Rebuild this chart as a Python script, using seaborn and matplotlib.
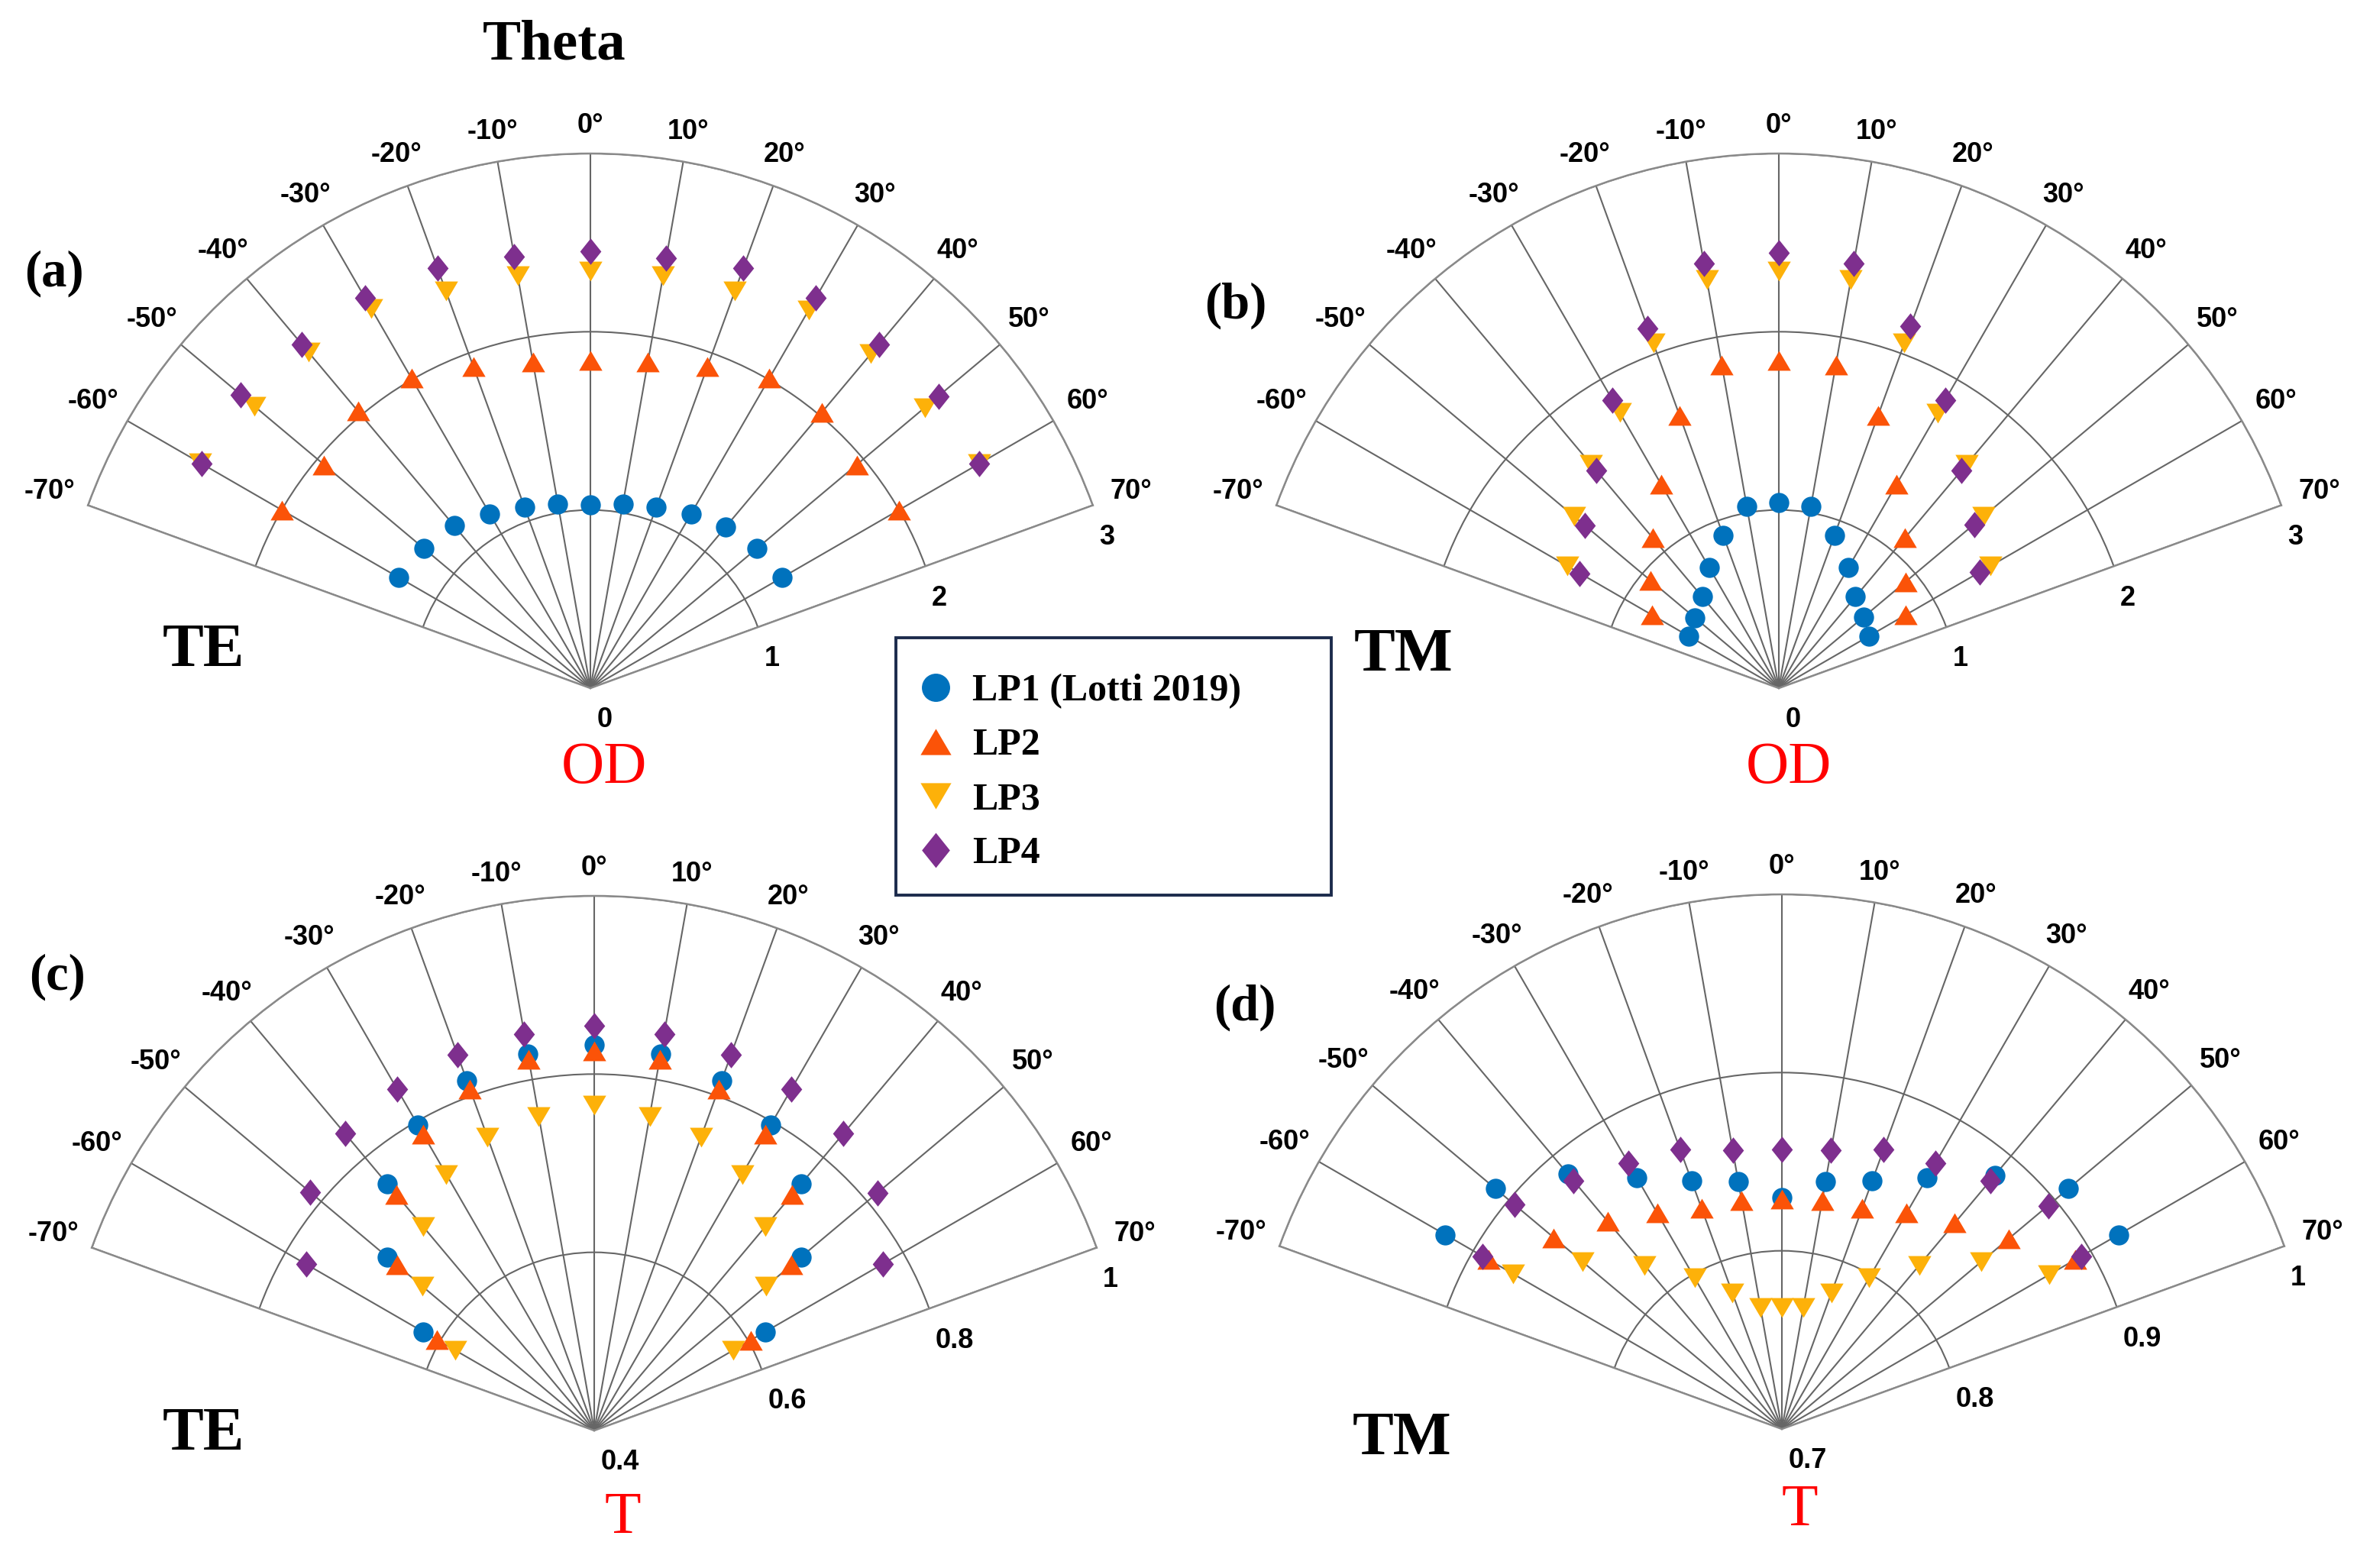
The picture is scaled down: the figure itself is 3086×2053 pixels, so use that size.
import numpy as np
import matplotlib
matplotlib.use("Agg")
import matplotlib.pyplot as plt
from matplotlib.lines import Line2D
from matplotlib.patches import Rectangle
import seaborn as sns

# incidence angles (deg) and series
angles = [-60, -50, -40, -30, -20, -10, 0, 10, 20, 30, 40, 50, 60]
series = ["LP1 (Lotti 2019)", "LP2", "LP3", "LP4"]

# (a) TE, OD
a_lp1 = [1.24, 1.22, 1.19, 1.13, 1.08, 1.05, 1.03, 1.05, 1.08, 1.13, 1.18, 1.22, 1.24]
a_lp2 = [2.00, 1.95, 2.03, 2.01, 1.92, 1.86, 1.84, 1.86, 1.92, 2.01, 2.02, 1.95, 2.00]
a_lp3 = [2.53, 2.46, 2.46, 2.46, 2.37, 2.35, 2.34, 2.35, 2.37, 2.45, 2.45, 2.45, 2.52]
a_lp4 = [2.52, 2.56, 2.52, 2.53, 2.51, 2.46, 2.45, 2.45, 2.51, 2.53, 2.52, 2.55, 2.52]
# (b) TM, OD
b_lp1 = [0.585, 0.615, 0.67, 0.78, 0.91, 1.035, 1.04, 1.035, 0.91, 0.78, 0.67, 0.62, 0.585]
b_lp2 = [0.82, 0.94, 1.10, 1.32, 1.63, 1.84, 1.84, 1.84, 1.63, 1.32, 1.10, 0.93, 0.82]
b_lp3 = [1.37, 1.50, 1.64, 1.785, 2.06, 2.33, 2.34, 2.33, 2.06, 1.78, 1.64, 1.50, 1.37]
b_lp4 = [1.29, 1.42, 1.595, 1.865, 2.15, 2.42, 2.445, 2.42, 2.16, 1.865, 1.595, 1.43, 1.30]
# (c) TE, T
c_lp1 = [0.622, 0.703, 0.761, 0.796, 0.818, 0.829, 0.833, 0.829, 0.818, 0.796, 0.761, 0.703, 0.622]
c_lp2 = [0.604, 0.689, 0.746, 0.784, 0.808, 0.823, 0.826, 0.823, 0.808, 0.784, 0.746, 0.689, 0.603]
c_lp3 = [0.580, 0.652, 0.699, 0.732, 0.750, 0.758, 0.765, 0.758, 0.750, 0.732, 0.699, 0.652, 0.580]
c_lp4 = [0.773, 0.816, 0.835, 0.842, 0.849, 0.852, 0.854, 0.852, 0.849, 0.842, 0.835, 0.815, 0.774]
# (d) TM, T
d_lp1 = [0.918, 0.910, 0.887, 0.863, 0.848, 0.841, 0.830, 0.841, 0.848, 0.863, 0.886, 0.910, 0.918]
d_lp2 = [0.890, 0.867, 0.852, 0.840, 0.832, 0.830, 0.829, 0.830, 0.832, 0.840, 0.851, 0.866, 0.890]
d_lp3 = [0.874, 0.846, 0.820, 0.798, 0.781, 0.769, 0.768, 0.769, 0.781, 0.798, 0.820, 0.846, 0.873]
d_lp4 = [0.894, 0.896, 0.882, 0.872, 0.867, 0.859, 0.857, 0.859, 0.867, 0.872, 0.882, 0.895, 0.894]

colors = ["#0072BD", "#FB5308", "#FDB109", "#7E2F8E"]
tri_up = [(0, 0.85), (-1, -0.85), (1, -0.85)]
tri_dn = [(0, -0.85), (-1, 0.85), (1, 0.85)]
diam = [(0, 1), (0.8, 0), (0, -1), (-0.8, 0)]
markers = ["o", tri_up, tri_dn, diam]
sizes = [90, 120, 120, 155]

sns.set_style("white")
plt.rcParams["font.family"] = ["Liberation Sans", "DejaVu Sans"]
plt.rcParams["text.color"] = "black"
SERIF = ["Liberation Serif", "DejaVu Serif"]

W, H = 3086, 2053
fig = plt.figure(figsize=(W / 200, H / 200), dpi=200)
R = 700
S = 2 * np.sin(np.deg2rad(70)) * R
GRID = "#666666"

panels = [
    dict(cx=773, cy=901, rmin=0, rmax=3, rings=[1, 2, 3], rlab=["0", "1", "2", "3"],
         data=[a_lp1, a_lp2, a_lp3, a_lp4]),
    dict(cx=2329, cy=901, rmin=0, rmax=3, rings=[1, 2, 3], rlab=["0", "1", "2", "3"],
         data=[b_lp1, b_lp2, b_lp3, b_lp4]),
    dict(cx=778, cy=1873, rmin=0.4, rmax=1, rings=[0.6, 0.8, 1], rlab=["0.4", "0.6", "0.8", "1"],
         data=[c_lp1, c_lp2, c_lp3, c_lp4]),
    dict(cx=2333, cy=1871, rmin=0.7, rmax=1, rings=[0.8, 0.9, 1], rlab=["0.7", "0.8", "0.9", "1"],
         data=[d_lp1, d_lp2, d_lp3, d_lp4]),
]

th = np.deg2rad(angles)
for p in panels:
    cy_up = H - p["cy"]
    ax = fig.add_axes([(p["cx"] - S / 2) / W, (cy_up + R / 2 - S / 2) / H, S / W, S / H],
                      projection="polar")
    for vals, c, m, s in zip(p["data"], colors, markers, sizes):
        sns.scatterplot(x=th, y=vals, ax=ax, color=c, marker=m, s=s, linewidth=0,
                        legend=False, clip_on=False, zorder=3)
    ax.set_theta_zero_location("N")
    ax.set_theta_direction(-1)
    ax.set_thetamin(-70)
    ax.set_thetamax(70)
    ax.set_rlim(p["rmin"], p["rmax"])
    ax.set_thetagrids(np.arange(-70, 71, 10), labels=[""] * 15)
    ax.set_rgrids(p["rings"], labels=[""] * len(p["rings"]))
    ax.grid(True, color=GRID, linewidth=0.75)
    for sp in ax.spines.values():
        sp.set_color("#8a8a8a")
        sp.set_linewidth(0.9)
    ax.set_xlabel("")
    ax.set_ylabel("")
    ax.tick_params(length=0)

    for a in range(-70, 71, 10):
        t = np.deg2rad(a)
        d = (37 + 17 * abs(np.sin(t))) * 0.36
        ax.annotate(f"{a}°", xy=(t, p["rmax"]), xytext=(d * np.sin(t), d * np.cos(t)),
                    textcoords="offset points", ha="center", va="center",
                    fontsize=13, fontweight="bold", annotation_clip=False)
    for rv, txt in zip([p["rmin"]] + p["rings"], p["rlab"]):
        ax.annotate(txt, xy=(np.deg2rad(70), rv), xytext=(3, -15), textcoords="offset points",
                    ha="left", va="center", fontsize=13, fontweight="bold",
                    annotation_clip=False)


def ftext(x, y, s, **kw):
    fig.text(x / W, 1 - y / H, s, ha="center", va="center", family=SERIF, **kw)


ftext(726, 59, "Theta", fontsize=27, fontweight="bold")
for lab, x, y in [("(a)", 71, 358), ("(b)", 1618, 400), ("(c)", 75, 1279), ("(d)", 1630, 1319)]:
    ftext(x, y, lab, fontsize=24, fontweight="bold")
for lab, x, y in [("TE", 266, 852), ("TM", 1838, 858), ("TE", 266, 1879), ("TM", 1836, 1885)]:
    ftext(x, y, lab, fontsize=29, fontweight="bold")
for lab, x, y in [("OD", 791, 1006), ("OD", 2342, 1006), ("T", 815, 1988), ("T", 2356, 1978)]:
    ftext(x, y, lab, fontsize=28, color="red")

# legend
leg_ms = [13.3, 14.5, 14.5, 16.5]
handles = [Line2D([], [], marker=m, color=c, linestyle="none", markersize=ms, markeredgewidth=0)
           for m, c, ms in zip(markers, colors, leg_ms)]
fig.legend(handles, series, loc="upper left", bbox_to_anchor=(1200 / W, 1 - 882 / H),
           frameon=False, prop=dict(family=SERIF, weight="bold", size=18),
           handlelength=1.0, handletextpad=0.46, labelspacing=0.5, borderpad=0,
           borderaxespad=0)
fig.add_artist(Rectangle((1173 / W, 1 - 1172 / H), 570 / W, 337 / H, transform=fig.transFigure,
                         fill=False, edgecolor="#1c2b4c", linewidth=1.4))

fig.savefig("out.png", dpi=200)
